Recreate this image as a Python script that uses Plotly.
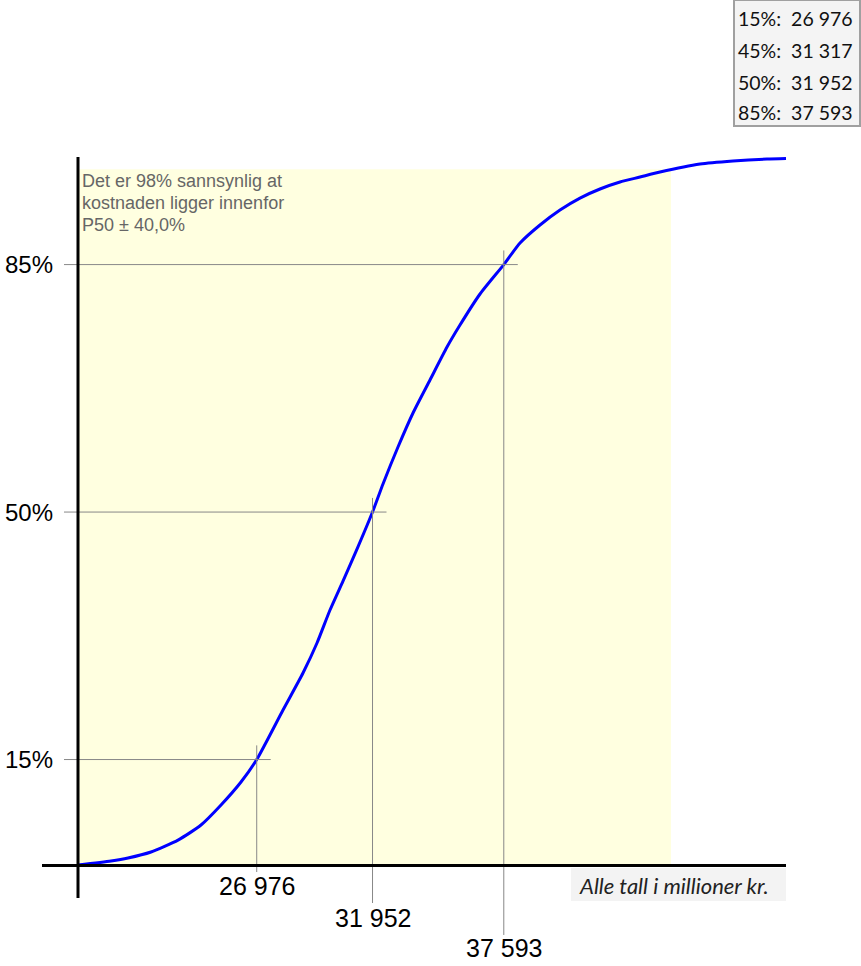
import plotly.graph_objects as go

# Cumulative distribution (cost in MNOK, probability in %)
cost = [19295, 20713, 21444, 22432, 23593, 24581, 25441, 26300, 26976, 28105,
        28964, 29566, 30125, 30683, 31317, 31952, 32402, 33047, 33692,
        34422, 35153, 35711, 36571, 37593, 38290, 39149, 40009, 40868, 41728,
        42587, 43447, 44306, 46025, 47443, 48904, 49721]
prob = [0.08, 0.65, 1.07, 1.92, 3.60, 5.74, 8.57, 11.82, 15.0, 22.01,
        27.24, 31.48, 36.15, 40.24, 45.0, 50.0, 53.97, 59.20, 64.01,
        68.68, 73.34, 76.45, 80.84, 85.0, 88.05, 90.60, 92.72, 94.41, 95.69,
        96.68, 97.38, 98.09, 99.22, 99.65, 99.93, 100.0]

# Percentile table (top-right box)
table_pct = [15, 45, 50, 85]
table_val = [26976, 31317, 31952, 37593]

# Percentiles marked with reference lines
mark_pct = [15, 50, 85]
mark_val = [26976, 31952, 37593]

# Shaded band (P50 +/- 40 %) and its height
band_low, band_high, band_top = 19295, 44779, 98.5

info_lines = ["Det er 98% sannsynlig at", "kostnaden ligger innenfor", "P50 ± 40,0%"]
unit_text = "Alle tall i millioner kr."

NB = "\u00a0"


def fmt(v):
    return format(v, ",").replace(",", NB)


# Axis ranges (data units) covering the whole canvas
x_min, x_max = 15943, 52944
y_min, y_max = -14.20, 122.42

fig = go.Figure()
fig.add_trace(go.Scatter(x=cost, y=prob, mode="lines",
                         line=dict(color="#0000ff", width=3, shape="spline", smoothing=0.6),
                         hoverinfo="skip", showlegend=False))

shapes = []
# yellow band
shapes.append(dict(type="rect", xref="x", yref="y", x0=band_low, x1=band_high,
                   y0=0, y1=band_top, fillcolor="#ffffe0", line=dict(width=0),
                   layer="below"))
# unit box
shapes.append(dict(type="rect", xref="x", yref="y", x0=40481, x1=49721,
                   y0=-5.0, y1=-0.34, fillcolor="#f3f3f3", line=dict(width=0),
                   layer="below"))

label_y = [-2.88, -7.41, -11.65]
vline_bottom = [-0.91, -5.29, -9.81]
for i, (p, v) in enumerate(zip(mark_pct, mark_val)):
    shapes.append(dict(type="line", xref="x", yref="y", x0=18693, x1=v + 601,
                       y0=p, y1=p, line=dict(color="#888888", width=1)))
    shapes.append(dict(type="line", xref="x", yref="y", x0=v, x1=v,
                       y0=p + 2.0, y1=vline_bottom[i],
                       line=dict(color="#888888", width=1)))

# axes lines
shapes.append(dict(type="line", xref="x", yref="y", x0=17748, x1=49721, y0=0, y1=0,
                   line=dict(color="black", width=3)))
shapes.append(dict(type="line", xref="x", yref="y", x0=band_low, x1=band_low,
                   y0=-4.58, y1=100.2, line=dict(color="black", width=3)))

# percentile table box
shapes.append(dict(type="rect", xref="paper", yref="paper", x0=734 / 861, x1=860 / 861,
                   y0=1 - 126 / 966, y1=1, fillcolor="#f4f4f4",
                   line=dict(color="#a0a0a0", width=2)))

annotations = []
for p in mark_pct:
    annotations.append(dict(x=18307, y=p, xref="x", yref="y", text=f"{p}%",
                            showarrow=False, xanchor="right", yanchor="middle",
                            font=dict(family="Liberation Sans, Arial", size=24, color="black")))
for i, v in enumerate(mark_val):
    annotations.append(dict(x=v, y=label_y[i], xref="x", yref="y", text=fmt(v),
                            showarrow=False, xanchor="center", yanchor="middle",
                            font=dict(family="Liberation Sans, Arial", size=25, color="black")))

info_y = [96.82, 93.71, 90.59]
for t, yy in zip(info_lines, info_y):
    annotations.append(dict(x=19381, y=yy, xref="x", yref="y", text=t,
                            showarrow=False, xanchor="left", yanchor="middle",
                            font=dict(family="Liberation Sans, Arial", size=18, color="#666666")))

annotations.append(dict(x=40739, y=-2.88, xref="x", yref="y", text=f"<i>{unit_text}</i>",
                        showarrow=False, xanchor="left", yanchor="middle",
                        font=dict(family="Lato", size=22, color="#222222")))

row_y = [18, 50, 82, 113]
for i, (p, v) in enumerate(zip(table_pct, table_val)):
    annotations.append(dict(x=736 / 861, y=1 - row_y[i] / 966, xref="paper", yref="paper",
                            text=f"{p}%:{NB}{NB}{fmt(v)}", showarrow=False,
                            xanchor="left", yanchor="middle",
                            font=dict(family="Lato", size=19.5, color="#111111")))

fig.update_layout(
    width=861, height=966,
    margin=dict(l=0, r=0, t=0, b=0),
    paper_bgcolor="white", plot_bgcolor="white",
    xaxis=dict(range=[x_min, x_max], visible=False, fixedrange=True),
    yaxis=dict(range=[y_min, y_max], visible=False, fixedrange=True),
    shapes=shapes, annotations=annotations,
    showlegend=False,
)

fig.write_html("out.html")
